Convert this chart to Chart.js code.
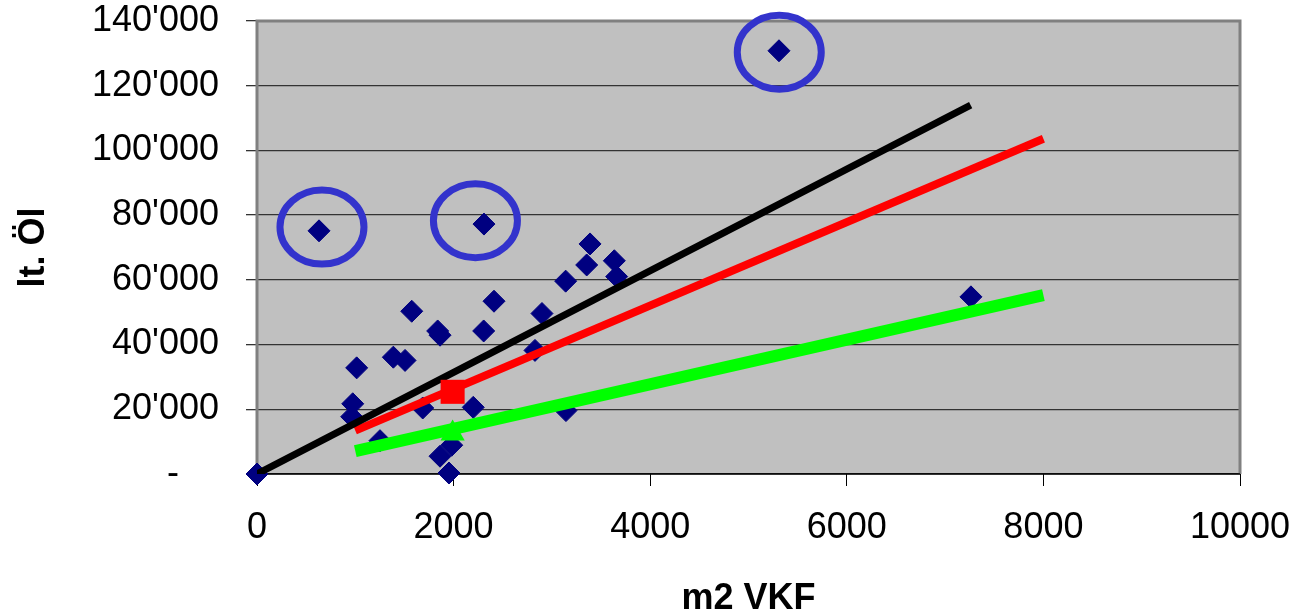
<!DOCTYPE html>
<html>
<head>
<meta charset="utf-8">
<script src="https://cdn.jsdelivr.net/npm/chart.js@4.4.1/dist/chart.umd.min.js"></script>
<style>
  html, body { margin: 0; padding: 0; background: #fff; }
  canvas { display: block; }
</style>
</head>
<body>
<canvas id="chart" width="1296" height="613"></canvas>
<script>
// measured points: m2 VKF vs lt. Öl
const areaM2 = [0, 631, 2309, 5310, 7263, 3388, 3354, 3635, 3659, 3140, 2411, 1574, 2899, 1838, 1862, 2306,
  2828, 1387, 1506, 1014, 974, 963, 1686, 2200, 3143, 1251, 1981, 1862, 1953];
const oilLt = [0, 75150, 77240, 130800, 54750, 71100, 64600, 65900, 61000, 59600, 53400, 50300, 49600, 44200, 42900, 44200,
  38200, 36100, 35100, 32800, 21700, 17700, 20400, 20600, 19600, 10300, 8900, 5500, 300];

// regression lines (start / end)
const blackX = [0, 7260];
const blackY = [0, 114000];
const redX = [1000, 8000];
const redY = [13400, 103600];
const greenX = [1000, 8000];
const greenY = [7100, 55300];

// mean markers
const meanX = [1990];
const meanRedY = [25400];
const meanGreenY = [12500];

// outlier rings
const ringX = [661, 2222, 5313];
const ringY = [76300, 78260, 130340];

const xTicks = [0, 2000, 4000, 6000, 8000, 10000];
const yTicks = [0, 20000, 40000, 60000, 80000, 100000, 120000, 140000];

const pts = (xs, ys) => xs.map((x, i) => ({ x: x, y: ys[i] }));
const fmt = (v) => v === 0 ? "-    " : String(v).replace(/\B(?=(\d{3})+(?!\d))/g, "'");

const plotBg = {
  id: "plotBg",
  beforeDraw(chart) {
    const { ctx, chartArea: a } = chart;
    ctx.save();
    ctx.fillStyle = "#c0c0c0";
    ctx.fillRect(a.left, a.top, a.right - a.left, a.bottom - a.top);
    ctx.restore();
  },
  beforeDatasetsDraw(chart) {
    const { ctx, chartArea: a } = chart;
    ctx.save();
    ctx.strokeStyle = "#808080";
    ctx.lineWidth = 3;
    ctx.beginPath();
    ctx.moveTo(a.left, a.bottom);
    ctx.lineTo(a.left, a.top);
    ctx.lineTo(a.right, a.top);
    ctx.lineTo(a.right, a.bottom);
    ctx.stroke();
    ctx.strokeStyle = "#000";
    ctx.lineWidth = 1.5;
    ctx.beginPath();
    ctx.moveTo(a.left, a.bottom);
    ctx.lineTo(a.right, a.bottom);
    ctx.stroke();
    ctx.restore();
  }
};

const rings = {
  id: "rings",
  afterDatasetsDraw(chart) {
    const { ctx } = chart;
    const xs = chart.scales.x, ys = chart.scales.y;
    ctx.save();
    ctx.strokeStyle = "#3333cc";
    ctx.lineWidth = 7;
    ringX.forEach((x, i) => {
      ctx.beginPath();
      ctx.ellipse(xs.getPixelForValue(x), ys.getPixelForValue(ringY[i]), 42, 37, 0, 0, Math.PI * 2);
      ctx.stroke();
    });
    ctx.restore();
  }
};

const tickFont = { family: "'Liberation Sans', Arial, sans-serif", size: 36 };
const titleFont = { family: "'Liberation Sans', Arial, sans-serif", size: 36, weight: "bold" };

new Chart(document.getElementById("chart"), {
  type: "scatter",
  data: {
    datasets: [
      { data: pts(meanX, meanRedY), pointStyle: "rect", pointRadius: 17, backgroundColor: "#ff0000", borderColor: "#ff0000", borderWidth: 0 },
      { data: pts(meanX, meanGreenY), pointStyle: "triangle", pointRadius: 14, backgroundColor: "#00ff00", borderColor: "#00ff00", borderWidth: 0 },
      { data: pts(blackX, blackY), showLine: true, borderColor: "#000", borderWidth: 7, pointRadius: 0 },
      { data: pts(redX, redY), showLine: true, borderColor: "#ff0000", borderWidth: 8, pointRadius: 0 },
      { data: pts(greenX, greenY), showLine: true, borderColor: "#00ff00", borderWidth: 12, pointRadius: 0 },
      { data: pts(areaM2, oilLt), clip: false, pointStyle: "rectRot", pointRadius: 11, backgroundColor: "#000080", borderColor: "#000080", borderWidth: 1 }
    ]
  },
  options: {
    responsive: false,
    animation: false,
    devicePixelRatio: 1,
    layout: { padding: { top: 21, right: 56, bottom: 0, left: 0 } },
    plugins: { legend: { display: false }, tooltip: { enabled: false } },
    scales: {
      x: {
        type: "linear",
        min: 0,
        max: 10000,
        afterBuildTicks: (s) => { s.ticks = xTicks.map(v => ({ value: v })); },
        afterFit: (s) => { s.height = 139; s.paddingLeft = 0; s.paddingRight = 0; },
        ticks: { font: tickFont, color: "#000", padding: 20, maxRotation: 0, callback: (v) => String(v) },
        grid: { drawOnChartArea: false, drawTicks: true, tickLength: 12, color: "#000", lineWidth: 1 },
        border: { display: false },
        title: { display: true, text: "m2 VKF", font: titleFont, color: "#000", padding: { top: 0, bottom: -8 } }
      },
      y: {
        type: "linear",
        min: 0,
        max: 140000,
        afterBuildTicks: (s) => { s.ticks = yTicks.map(v => ({ value: v })); },
        afterFit: (s) => { s.width = 257; s.paddingTop = 0; s.paddingBottom = 0; },
        ticks: { font: tickFont, color: "#000", padding: 27, callback: (v) => fmt(v) },
        grid: { drawTicks: true, tickLength: 11, color: "#333", lineWidth: 1.3 },
        border: { display: false },
        title: { display: true, text: "lt. Öl", font: titleFont, color: "#000", padding: { top: 12, bottom: 0 } }
      }
    }
  },
  plugins: [plotBg, rings]
});
</script>
</body>
</html>
